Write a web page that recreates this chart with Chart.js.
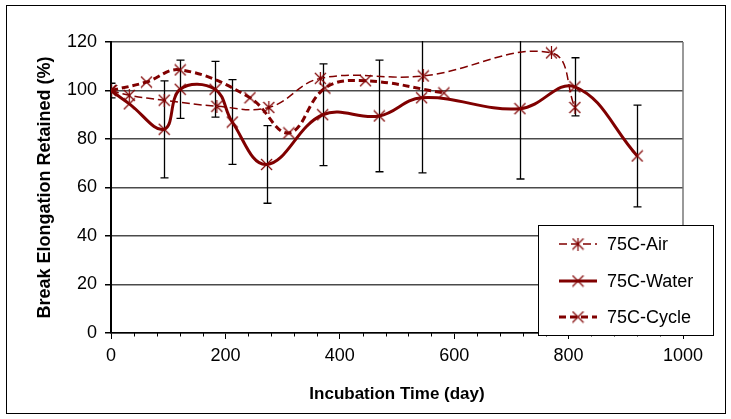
<!DOCTYPE html>
<html>
<head>
<meta charset="utf-8">
<script src="https://cdn.jsdelivr.net/npm/chart.js@4.4.0/dist/chart.umd.min.js"></script>
<style>
  html, body { margin: 0; padding: 0; background: #fff; }
</style>
</head>
<body>
<canvas id="chart" width="731" height="419"></canvas>
<script>
// ---------------------------
//   DATOS
// ---------------------------
const airDays     = [0, 32, 93, 185, 276, 366, 546, 770, 811];
const airValues   = [100, 98, 96, 93.5, 93, 105, 106, 115.5, 93];

const waterDays   = [0, 32, 93, 121, 182, 212, 272, 370, 469, 543, 715, 811, 920];
const waterValues = [100, 94.5, 84, 100.5, 100.5, 87, 69.5, 90, 89.5, 97, 92.5, 101.5, 73];
const waterErrors = [3, 0, 20, 12, 11.5, 17.5, 16, 21, 23, 31, 29, 12, 21];

const cycleDays   = [0, 62, 121, 243, 311, 374, 445, 582];
const cycleValues = [100, 103.5, 108.5, 97, 82.5, 101, 104, 99];

const seriesNames = ["75C-Air", "75C-Water", "75C-Cycle"];
const xTicks = [0, 200, 400, 600, 800, 1000];
const xMinorStep = 40;
const yTicks = [0, 20, 40, 60, 80, 100, 120];

const RED = "#800000";
const FONT = "'Liberation Sans', Arial, sans-serif";

// ---------------------------
//   MARCADORES
// ---------------------------
function makeMarker(star) {
  const c = document.createElement("canvas");
  c.width = 13;
  c.height = 13;
  const g = c.getContext("2d");
  g.strokeStyle = RED;
  g.lineWidth = 1.2;
  g.beginPath();
  g.moveTo(1, 1); g.lineTo(12, 12);
  g.moveTo(12, 1); g.lineTo(1, 12);
  if (star) { g.moveTo(6.5, 0); g.lineTo(6.5, 13); }
  g.stroke();
  return c;
}
const starMark = makeMarker(true);
const crossMark = makeMarker(false);

function toPoints(xs, ys) {
  return xs.map((x, i) => ({ x: x, y: ys[i] }));
}

const datasets = [
  {
    label: seriesNames[0],
    data: toPoints(airDays, airValues),
    borderColor: RED,
    borderWidth: 1.5,
    borderDash: [8, 4],
    pointStyle: starMark,
    tension: 0.4
  },
  {
    label: seriesNames[1],
    data: toPoints(waterDays, waterValues),
    borderColor: RED,
    borderWidth: 3,
    pointStyle: crossMark,
    tension: 0.4
  },
  {
    label: seriesNames[2],
    data: toPoints(cycleDays, cycleValues),
    borderColor: RED,
    borderWidth: 3,
    borderDash: [7, 4],
    pointStyle: crossMark,
    tension: 0.4
  }
];

// ---------------------------
//   PLUGINS
// ---------------------------
const errorBars = {
  id: "errorBars",
  beforeDatasetsDraw(chart) {
    const { ctx, chartArea, scales } = chart;
    ctx.save();
    ctx.beginPath();
    ctx.rect(chartArea.left, chartArea.top - 1, chartArea.width, chartArea.height + 1);
    ctx.clip();
    ctx.strokeStyle = "#000";
    ctx.lineWidth = 1.3;
    waterDays.forEach((d, i) => {
      const e = waterErrors[i];
      if (!e) return;
      const x = Math.round(scales.x.getPixelForValue(d)) + 0.5;
      const yTop = scales.y.getPixelForValue(waterValues[i] + e);
      const yBot = scales.y.getPixelForValue(waterValues[i] - e);
      ctx.beginPath();
      ctx.moveTo(x, yTop); ctx.lineTo(x, yBot);
      ctx.moveTo(x - 4, yTop); ctx.lineTo(x + 4, yTop);
      ctx.moveTo(x - 4, yBot); ctx.lineTo(x + 4, yBot);
      ctx.stroke();
    });
    ctx.restore();
  }
};

const frame = {
  id: "frame",
  afterDraw(chart) {
    const { ctx, chartArea, scales } = chart;
    ctx.save();
    // borde derecho del área
    ctx.strokeStyle = "#777";
    ctx.lineWidth = 1.5;
    ctx.beginPath();
    ctx.moveTo(chartArea.right, chartArea.top);
    ctx.lineTo(chartArea.right, chartArea.bottom);
    ctx.stroke();

    // marcas menores del eje x
    ctx.strokeStyle = "#000";
    ctx.lineWidth = 1;
    for (let v = 0; v <= 1000; v += xMinorStep) {
      if (xTicks.includes(v)) continue;
      const x = Math.round(scales.x.getPixelForValue(v)) + 0.5;
      ctx.beginPath();
      ctx.moveTo(x, chartArea.bottom);
      ctx.lineTo(x, chartArea.bottom + 3.5);
      ctx.stroke();
    }

    // leyenda
    const lx = 538.5, ly = 225.5, lw = 175, lh = 110;
    ctx.fillStyle = "#fff";
    ctx.fillRect(lx, ly, lw, lh);
    ctx.strokeStyle = "#000";
    ctx.lineWidth = 1;
    ctx.strokeRect(lx, ly, lw, lh);
    const rows = [244, 281, 317];
    datasets.forEach((ds, i) => {
      const y = rows[i];
      ctx.strokeStyle = RED;
      ctx.lineWidth = ds.borderWidth;
      ctx.setLineDash(ds.borderDash || []);
      ctx.beginPath();
      ctx.moveTo(559, y);
      ctx.lineTo(597, y);
      ctx.stroke();
      ctx.setLineDash([]);
      ctx.drawImage(ds.pointStyle, 578 - 6.5, y - 6.5);
      ctx.fillStyle = "#000";
      ctx.font = "18px " + FONT;
      ctx.textBaseline = "middle";
      ctx.textAlign = "left";
      ctx.fillText(ds.label, 607, y + 1);
    });

    // marco exterior
    ctx.strokeStyle = "#000";
    ctx.lineWidth = 1;
    ctx.strokeRect(6.5, 5.5, 719, 408);
    ctx.restore();
  }
};

// ---------------------------
//   GRÁFICA
// ---------------------------
const chart = new Chart(document.getElementById("chart"), {
  type: "line",
  data: { datasets: datasets },
  options: {
    responsive: false,
    animation: false,
    layout: { padding: { left: 0, top: 42, right: 48, bottom: 0 } },
    plugins: {
      legend: { display: false },
      tooltip: { enabled: false }
    },
    elements: { point: { radius: 6 } },
    scales: {
      x: {
        type: "linear",
        min: 0,
        max: 1000,
        afterFit: (s) => { s.height = 86; },
        afterBuildTicks: (s) => { s.ticks = xTicks.map(v => ({ value: v })); },
        ticks: {
          color: "#000",
          font: { family: FONT, size: 18 },
          padding: 6,
          maxRotation: 0,
          callback: (v) => String(v)
        },
        grid: { drawOnChartArea: false, tickColor: "#000", tickLength: 6 },
        border: { color: "#000", width: 1.5 },
        title: {
          display: true,
          text: "Incubation Time (day)",
          color: "#000",
          font: { family: FONT, size: 17, weight: "bold" },
          padding: { top: 0, bottom: 14 }
        }
      },
      y: {
        min: 0,
        max: 120,
        afterFit: (s) => { s.width = 111; },
        afterBuildTicks: (s) => { s.ticks = yTicks.map(v => ({ value: v })); },
        ticks: { color: "#000", font: { family: FONT, size: 18 }, padding: 8 },
        grid: { color: "#4a4a4a", lineWidth: 1.5, tickColor: "#000", tickLength: 6 },
        border: { color: "#000", width: 2 },
        title: {
          display: true,
          text: "Break Elongation Retained (%)",
          color: "#000",
          font: { family: FONT, size: 18, weight: "bold" },
          padding: { top: 34, bottom: 0 }
        }
      }
    }
  },
  plugins: [errorBars, frame]
});
</script>
</body>
</html>
